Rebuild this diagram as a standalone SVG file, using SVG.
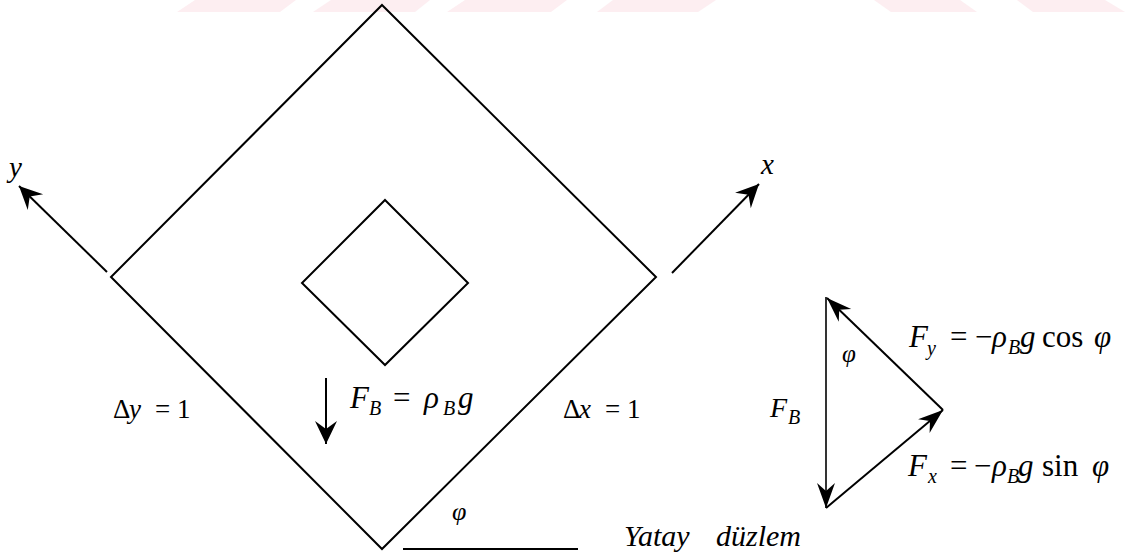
<svg xmlns="http://www.w3.org/2000/svg" width="1125" height="554" viewBox="0 0 1125 554">
<style>
.ln{fill:none;stroke:#000;stroke-width:2;stroke-linejoin:miter}
.thin{fill:none;stroke:#000;stroke-width:1.6}
.wm{fill:#fdeef1;stroke:none}
.i{font-style:italic}
.m{font-size:31px}
.s{font-size:20px;font-style:italic}
</style>
<defs>
<marker id="arr" viewBox="-24 -12 25 24" refX="0" refY="0" markerWidth="25" markerHeight="24" markerUnits="userSpaceOnUse" orient="auto">
<path d="M0,0 L-23,-11 L-15,0 L-23,11 Z" fill="#000"/>
</marker>
<marker id="arrS" viewBox="-26 -10 27 20" refX="0" refY="0" markerWidth="27" markerHeight="20" markerUnits="userSpaceOnUse" orient="auto">
<path d="M0,0 L-25,-9 L-17,0 L-25,9 Z" fill="#000"/>
</marker>
</defs>
<rect width="1125" height="554" fill="#fff"/>
<g id="watermark">
<polygon class="wm" points="195,0 296,0 280,12 177,12"/>
<polygon class="wm" points="331,0 430,0 415,12 313,12"/>
<polygon class="wm" points="465,0 567,0 551,12 447,12"/>
<polygon class="wm" points="613,0 716,0 698,12 597,12"/>
<polygon class="wm" points="874,0 960,0 977,12 891,12"/>
<polygon class="wm" points="1017,0 1105,0 1125,12 1033,12"/>
</g>
<g id="outer-square">
<polygon class="ln" points="382,5 656,277 382,549 111,277"/>
</g>
<g id="inner-square">
<polygon class="ln" points="385,200 468,283 385,365 302,283"/>
</g>
<g id="connectors">
<line class="ln" x1="107" y1="272" x2="19" y2="186" marker-end="url(#arr)"/>
<line class="ln" x1="672" y1="273" x2="759" y2="184" marker-end="url(#arr)"/>
<line class="ln" x1="326" y1="378" x2="326" y2="444" marker-end="url(#arr)"/>
<line class="ln" x1="943" y1="410" x2="827" y2="298" marker-end="url(#arrS)"/>
<line class="thin" x1="826" y1="297" x2="826" y2="508" marker-end="url(#arrS)"/>
<line class="ln" x1="826" y1="508" x2="943" y2="410" marker-end="url(#arrS)"/>
</g>
<g id="texts" font-family="Liberation Serif, DejaVu Serif, Times New Roman, serif" fill="#000">
<g id="horizontal-plane">
<line class="ln" x1="403" y1="549" x2="578" y2="549" stroke-width="1.6"/>
<text class="i" x="452" y="520" font-size="26" font-family="Liberation Serif, DejaVu Serif, serif">φ</text>
<text class="i" font-size="30" font-family="Liberation Serif, DejaVu Serif, serif"><tspan x="624" y="546">Yatay</tspan><tspan x="716" y="546">düzlem</tspan></text>
</g>
<g id="axis-labels">
<text class="i" x="9" y="177" font-size="29" font-family="Liberation Serif, DejaVu Serif, serif">y</text>
<text class="i" x="761" y="174" font-size="29" font-family="Liberation Serif, DejaVu Serif, serif">x</text>
</g>
<g id="label-fb-center">
<text class="m" font-family="Liberation Serif, DejaVu Serif, serif"><tspan x="350" y="408" class="i">F</tspan><tspan x="369" y="415" class="s">B</tspan><tspan x="393" y="408">=</tspan><tspan x="424" y="408" class="i">ρ</tspan><tspan x="443" y="415" class="s">B</tspan><tspan x="458" y="408" class="i">g</tspan></text>
</g>
<g id="label-dy">
<text font-size="27" font-family="Liberation Serif, DejaVu Serif, serif"><tspan x="113" y="418">Δ</tspan><tspan x="129" y="418" class="i">y</tspan><tspan x="155" y="418">=</tspan><tspan x="177" y="418">1</tspan></text>
</g>
<g id="label-dx">
<text font-size="27" font-family="Liberation Serif, DejaVu Serif, serif"><tspan x="563" y="418">Δ</tspan><tspan x="579" y="418" class="i">x</tspan><tspan x="605" y="418">=</tspan><tspan x="627" y="418">1</tspan></text>
</g>
<g id="force-triangle-labels">
<text class="i" x="842" y="362" font-size="25" font-family="Liberation Serif, DejaVu Serif, serif">φ</text>
<text font-size="28" font-family="Liberation Serif, DejaVu Serif, serif"><tspan x="770" y="417" class="i">F</tspan><tspan x="788" y="424" class="s" font-size="18">B</tspan></text>
<text class="m" font-family="Liberation Serif, DejaVu Serif, serif"><tspan x="909" y="347" class="i">F</tspan><tspan x="927" y="355" class="s">y</tspan><tspan x="950" y="347">=</tspan><tspan x="975" y="347">−</tspan><tspan x="992" y="347" class="i">ρ</tspan><tspan x="1008" y="354" class="s">B</tspan><tspan x="1020" y="347" class="i">g</tspan><tspan x="1042" y="347">cos</tspan><tspan x="1094" y="347" class="i">φ</tspan></text>
<text class="m" font-family="Liberation Serif, DejaVu Serif, serif"><tspan x="908" y="476" class="i">F</tspan><tspan x="928" y="483" class="s">x</tspan><tspan x="950" y="476">=</tspan><tspan x="974" y="476">−</tspan><tspan x="992" y="476" class="i">ρ</tspan><tspan x="1007" y="483" class="s">B</tspan><tspan x="1018" y="476" class="i">g</tspan><tspan x="1042" y="476">sin</tspan><tspan x="1092" y="476" class="i">φ</tspan></text>
</g>
</g>
</svg>
